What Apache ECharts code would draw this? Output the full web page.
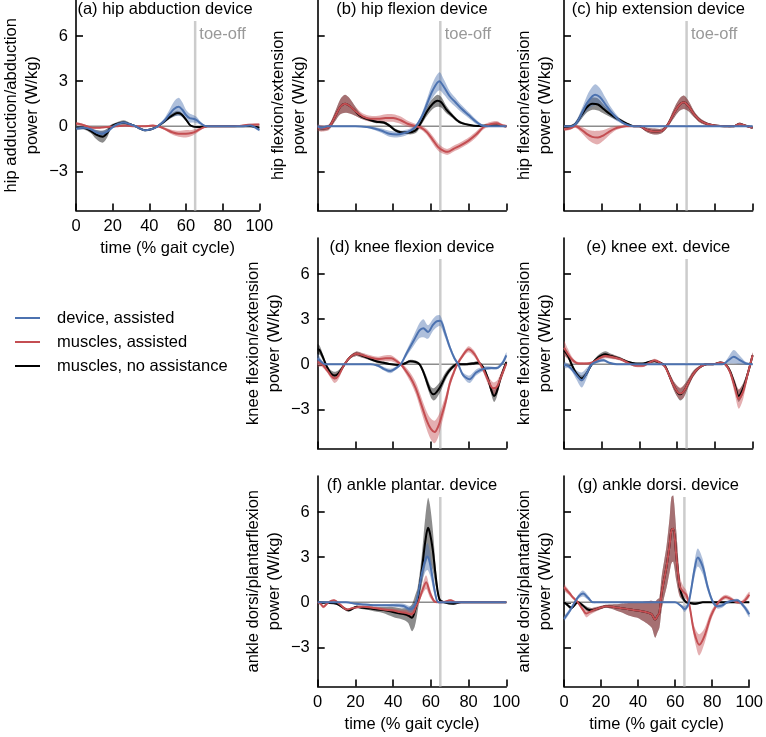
<!DOCTYPE html>
<html><head><meta charset="utf-8">
<script src="https://cdn.jsdelivr.net/npm/echarts@6.0.0/dist/echarts.min.js"></script>
<style>html,body{margin:0;padding:0;background:#fff}#c{width:766px;height:737px}</style>
</head><body><div id="c"></div>
<script>
// ---------------- DATA ----------------
const xTicks = [0, 20, 40, 60, 80, 100];
const yTicks = [-3, 0, 3, 6];
const toeOff = 65;
const toeTop = 7;
const toeLabelPos = [67.3, 6.1];
const zeroX = [0, 100];

// (a) hip abduction device
const a_none_t = [0, 4, 8, 11, 14.5, 17, 19, 22, 26, 29, 32.5, 35, 37.5, 41, 44.5, 48, 51, 53.5, 55.5, 57.5, 60, 62.5, 66, 72, 80, 90, 95, 100];
const a_none_y = [-0.1, -0.1, -0.3, -0.55, -0.7, -0.45, -0.05, 0.15, 0.25, 0.15, 0, -0.15, -0.27, -0.2, 0, 0.3, 0.6, 0.8, 0.88, 0.8, 0.45, 0.05, -0.05, 0, 0, 0, 0, -0.1];
const a_none_sd = [0.1, 0.1, 0.15, 0.3, 0.4, 0.3, 0.15, 0.1, 0.15, 0.1, 0.05, 0.05, 0.05, 0.05, 0.05, 0.1, 0.12, 0.15, 0.15, 0.12, 0.1, 0.05, 0.03, 0.03, 0.03, 0.03, 0.03, 0.05];
const a_musc_t = [0, 3, 6, 9, 13, 17, 22, 27, 32, 37, 42, 46, 49, 52.5, 56, 60, 63, 66, 69, 72, 80, 88, 94, 100];
const a_musc_y = [0.18, 0.12, 0, -0.1, -0.1, -0.05, 0, 0.05, 0, 0, 0.05, -0.05, -0.2, -0.4, -0.5, -0.5, -0.45, -0.3, -0.1, 0, 0, 0.02, 0.1, 0.12];
const a_musc_sd = [0.1, 0.08, 0.05, 0.05, 0.05, 0.05, 0.05, 0.05, 0.05, 0.05, 0.05, 0.05, 0.1, 0.15, 0.2, 0.25, 0.2, 0.15, 0.08, 0.05, 0.03, 0.03, 0.05, 0.05];
const a_dev_t = [0, 4, 8, 11, 14, 17, 20, 23, 26, 29, 32.5, 35, 37.5, 41, 44.5, 48, 51, 53.5, 56, 58, 60, 62, 64, 66, 68, 70.5, 75, 80, 90, 95, 100];
const a_dev_y = [-0.15, -0.1, -0.2, -0.4, -0.5, -0.35, -0.05, 0.15, 0.25, 0.15, 0, -0.15, -0.27, -0.2, 0, 0.35, 0.8, 1.15, 1.3, 1.1, 0.75, 0.55, 0.5, 0.4, 0.2, 0.02, 0, 0, 0, 0.05, -0.25];
const a_dev_sd = [0.1, 0.1, 0.1, 0.15, 0.2, 0.15, 0.1, 0.1, 0.1, 0.08, 0.05, 0.05, 0.05, 0.05, 0.05, 0.15, 0.3, 0.5, 0.6, 0.5, 0.35, 0.3, 0.25, 0.2, 0.1, 0.05, 0.03, 0.03, 0.03, 0.05, 0.08];

// (b) hip flexion device
const b_none_t = [0, 3, 6, 9, 12, 14.5, 17, 20, 23, 27, 31, 35, 38, 41, 44, 47, 50, 52.5, 55, 58, 61, 63.5, 65.5, 68, 71, 75, 80, 85, 90, 95, 100];
const b_none_y = [-0.1, -0.15, -0.05, 0.6, 1.3, 1.5, 1.35, 1.0, 0.65, 0.45, 0.3, 0.25, 0.05, -0.25, -0.4, -0.42, -0.38, -0.2, 0.3, 1.0, 1.5, 1.7, 1.6, 1.15, 0.75, 0.3, 0.1, 0.02, 0.05, 0.05, 0];
const b_none_sd = [0.15, 0.15, 0.15, 0.3, 0.5, 0.6, 0.5, 0.3, 0.15, 0.1, 0.1, 0.1, 0.1, 0.1, 0.1, 0.1, 0.15, 0.2, 0.2, 0.3, 0.35, 0.4, 0.35, 0.25, 0.15, 0.1, 0.05, 0.05, 0.05, 0.05, 0.05];
const b_musc_t = [0, 3, 6, 9, 12, 14.5, 17, 20, 24, 28, 32, 36, 40, 44, 48, 52, 55, 58, 61, 64, 67, 69, 72, 76, 80, 84, 88, 92, 95, 98, 100];
const b_musc_y = [-0.1, -0.15, -0.05, 0.6, 1.3, 1.5, 1.35, 1.0, 0.65, 0.5, 0.5, 0.55, 0.55, 0.4, 0.15, 0, -0.1, -0.4, -0.9, -1.4, -1.65, -1.7, -1.5, -1.25, -0.95, -0.55, -0.05, 0.15, 0.2, 0.05, 0];
const b_musc_sd = [0.2, 0.2, 0.2, 0.3, 0.5, 0.6, 0.5, 0.3, 0.2, 0.2, 0.2, 0.25, 0.25, 0.25, 0.2, 0.15, 0.15, 0.2, 0.25, 0.25, 0.2, 0.2, 0.2, 0.2, 0.2, 0.2, 0.15, 0.15, 0.15, 0.1, 0.1];
const b_dev_t = [0, 2, 5, 10, 20, 26, 30, 34, 38, 42, 46, 49, 52, 55, 58, 61, 64.5, 67, 70, 73, 76, 80, 84, 87, 90, 95, 100];
const b_dev_y = [0, -0.1, 0, 0, 0, -0.05, -0.15, -0.3, -0.5, -0.55, -0.45, -0.3, 0, 0.6, 1.5, 2.4, 3.0, 2.6, 2.0, 1.6, 1.2, 0.75, 0.3, 0.05, 0, 0, 0];
const b_dev_sd = [0.1, 0.15, 0.03, 0.02, 0.02, 0.05, 0.1, 0.15, 0.2, 0.2, 0.2, 0.15, 0.1, 0.2, 0.35, 0.5, 0.6, 0.5, 0.35, 0.3, 0.25, 0.2, 0.15, 0.1, 0.05, 0.03, 0.03];

// (c) hip extension device
const c_none_t = [0, 3, 6, 9, 12, 15, 18, 21, 24, 27, 30, 33, 37, 40, 44, 48, 52, 55, 58, 61, 63.5, 66, 69, 72, 76, 80, 85, 90, 93, 96, 100];
const c_none_y = [0, 0, 0.15, 0.7, 1.25, 1.5, 1.45, 1.15, 0.85, 0.6, 0.4, 0.2, 0, 0, -0.25, -0.35, -0.3, 0.1, 0.8, 1.4, 1.6, 1.35, 0.8, 0.4, 0.15, 0.05, 0, 0, 0.15, 0.05, -0.1];
const c_none_sd = [0.05, 0.05, 0.1, 0.25, 0.35, 0.4, 0.4, 0.3, 0.2, 0.15, 0.1, 0.08, 0.05, 0.05, 0.15, 0.2, 0.15, 0.15, 0.3, 0.4, 0.45, 0.35, 0.2, 0.15, 0.1, 0.05, 0.05, 0.05, 0.1, 0.05, 0.05];
const c_musc_t = [0, 3, 6, 9, 12, 15, 18, 21, 24, 27, 30, 33, 37, 40, 44, 48, 52, 55, 58, 61, 63.5, 66, 69, 72, 76, 80, 85, 90, 93, 96, 100];
const c_musc_y = [-0.2, -0.15, 0, -0.2, -0.5, -0.7, -0.75, -0.6, -0.35, -0.15, -0.05, 0, 0, 0, -0.25, -0.35, -0.3, 0.1, 0.8, 1.4, 1.6, 1.35, 0.8, 0.4, 0.15, 0.05, 0, 0, 0.15, 0.05, -0.1];
const c_musc_sd = [0.1, 0.1, 0.1, 0.2, 0.3, 0.4, 0.45, 0.35, 0.25, 0.15, 0.1, 0.05, 0.05, 0.05, 0.15, 0.2, 0.15, 0.15, 0.3, 0.4, 0.45, 0.35, 0.2, 0.15, 0.1, 0.05, 0.05, 0.05, 0.1, 0.05, 0.05];
const c_dev_t = [0, 4, 7, 10, 13, 16.5, 19, 22, 25, 28, 31, 34, 37, 45, 55, 65, 75, 85, 100];
const c_dev_y = [0, 0, 0.3, 1.0, 1.7, 2.1, 1.95, 1.45, 0.95, 0.55, 0.25, 0.08, 0, 0, 0, 0, 0, 0, 0];
const c_dev_sd = [0.02, 0.05, 0.2, 0.35, 0.55, 0.7, 0.6, 0.45, 0.3, 0.2, 0.1, 0.05, 0.02, 0.02, 0.02, 0.02, 0.02, 0.02, 0.02];

// (d) knee flexion device
const d_none_t = [0, 1, 3, 5, 7, 9, 11, 14, 17, 20.5, 23, 27, 31, 35, 39, 43, 46, 49, 52, 54, 56, 58, 60, 61.5, 63, 65, 68, 71, 74, 78, 82, 85, 88, 90.5, 92, 93.5, 95, 97, 100];
const d_none_y = [1.0, 0.95, 0.4, -0.2, -0.6, -0.75, -0.6, -0.05, 0.45, 0.7, 0.6, 0.4, 0.2, 0.1, 0.0, -0.05, 0.05, 0.2, 0.15, 0, -0.5, -1.2, -1.85, -2.0, -1.85, -1.5, -0.75, -0.25, 0, 0, 0.05, 0.1, -0.25, -1.05, -1.7, -2.1, -1.8, -0.9, 0.15];
const d_none_sd = [0.35, 0.3, 0.2, 0.15, 0.2, 0.25, 0.2, 0.1, 0.1, 0.15, 0.15, 0.1, 0.08, 0.08, 0.05, 0.05, 0.08, 0.1, 0.1, 0.1, 0.2, 0.3, 0.35, 0.4, 0.4, 0.35, 0.25, 0.15, 0.1, 0.08, 0.1, 0.1, 0.1, 0.2, 0.3, 0.4, 0.35, 0.2, 0.1];
const d_musc_t = [0, 2, 5, 7, 9, 11, 14, 17, 20.5, 24, 28, 32, 36, 39, 42, 44, 46, 49, 52, 55, 58, 60, 62, 64, 66, 68, 70, 72, 74, 77, 80, 83, 86, 88, 90.5, 93, 95, 97, 100];
const d_musc_y = [0.15, 0.05, -0.4, -0.75, -0.95, -0.75, -0.05, 0.45, 0.7, 0.6, 0.45, 0.35, 0.4, 0.4, 0.2, 0, -0.3, -0.85, -1.6, -2.7, -3.8, -4.3, -4.5, -4.1, -3.3, -2.4, -1.3, -0.6, 0, 0.6, 1.0, 0.7, 0.05, -0.4, -1.1, -1.6, -1.5, -0.9, 0.05];
const d_musc_sd = [0.3, 0.2, 0.15, 0.2, 0.3, 0.25, 0.1, 0.1, 0.15, 0.15, 0.15, 0.15, 0.2, 0.2, 0.15, 0.1, 0.2, 0.3, 0.4, 0.5, 0.6, 0.7, 0.75, 0.7, 0.55, 0.4, 0.3, 0.2, 0.15, 0.15, 0.2, 0.2, 0.15, 0.2, 0.3, 0.4, 0.4, 0.3, 0.15];
const d_dev_t = [0, 2, 4, 10, 20, 28, 32, 35, 38.5, 41, 44, 47, 51, 54, 56, 58.5, 61, 63, 65, 67.5, 70, 72.5, 74.5, 77, 80.5, 84, 88, 92, 95, 98, 100];
const d_dev_y = [0.4, 0.15, 0, 0, 0, 0, -0.1, -0.3, -0.45, -0.3, 0, 0.7, 1.6, 2.25, 2.4, 2.15, 2.6, 2.85, 2.9, 2.1, 1.15, 0.4, 0, -0.7, -1.0, -0.55, -0.3, -0.25, -0.25, 0.1, 0.6];
const d_dev_sd = [0.3, 0.15, 0.05, 0.02, 0.02, 0.03, 0.08, 0.12, 0.15, 0.12, 0.08, 0.2, 0.35, 0.5, 0.6, 0.45, 0.4, 0.4, 0.35, 0.3, 0.2, 0.15, 0.1, 0.15, 0.25, 0.2, 0.15, 0.1, 0.1, 0.15, 0.2];

// (e) knee ext. device
const e_none_t = [0, 2, 4, 6.5, 9.4, 12, 14.7, 18, 21.8, 25, 29.7, 34, 38, 42, 45, 48, 51, 53.5, 56, 58.5, 61.5, 63.5, 65.5, 68.5, 72, 75.7, 79, 83, 85.5, 88, 90.5, 92.6, 95, 97.5, 100];
const e_none_y = [0.93, 0.6, 0, -0.6, -0.95, -0.6, 0, 0.45, 0.67, 0.55, 0.38, 0.15, 0.05, 0.05, 0.15, 0.22, 0.1, -0.1, -0.8, -1.5, -2.0, -1.8, -1.35, -0.65, -0.2, 0, 0, 0.12, 0, -0.45, -1.35, -2.1, -1.6, -0.6, 0.6];
const e_none_sd = [0.25, 0.2, 0.1, 0.15, 0.2, 0.15, 0.1, 0.15, 0.2, 0.15, 0.1, 0.08, 0.05, 0.05, 0.08, 0.1, 0.08, 0.1, 0.2, 0.3, 0.4, 0.4, 0.3, 0.2, 0.1, 0.05, 0.05, 0.05, 0.05, 0.15, 0.3, 0.4, 0.35, 0.2, 0.15];
const e_musc_t = [0, 2, 4, 6.5, 9.4, 12, 14.7, 18, 21.8, 25, 29.7, 34, 38, 42, 45, 48, 51, 53.5, 56, 58.5, 61.5, 63.5, 65.5, 68.5, 72, 75.7, 79, 83, 85.5, 88, 90.5, 92.6, 95, 97.5, 100];
const e_musc_y = [1.1, 0.7, 0.35, 0.1, 0.05, 0.05, 0.1, 0.35, 0.55, 0.5, 0.35, 0.1, -0.1, -0.1, 0.1, 0.25, 0.1, -0.15, -0.8, -1.5, -1.95, -1.8, -1.35, -0.65, -0.2, 0, 0, 0.12, 0, -0.5, -1.5, -2.3, -1.8, -0.6, 0.6];
const e_musc_sd = [0.45, 0.35, 0.2, 0.1, 0.08, 0.08, 0.08, 0.1, 0.15, 0.15, 0.1, 0.08, 0.08, 0.08, 0.1, 0.12, 0.1, 0.1, 0.2, 0.3, 0.4, 0.4, 0.3, 0.2, 0.1, 0.05, 0.05, 0.05, 0.08, 0.2, 0.45, 0.65, 0.5, 0.25, 0.2];
const e_dev_t = [0, 2, 4, 6.5, 9.4, 12, 14.7, 18, 21, 24, 28, 40, 60, 80, 84.5, 87, 90, 93, 96.5, 100];
const e_dev_y = [-0.05, -0.1, -0.3, -0.7, -1.05, -0.6, 0, 0.2, 0.27, 0.1, 0, 0, 0, 0, 0.02, 0.25, 0.5, 0.3, 0.05, 0];
const e_dev_sd = [0.2, 0.15, 0.15, 0.3, 0.5, 0.35, 0.1, 0.1, 0.1, 0.05, 0.02, 0.02, 0.02, 0.02, 0.05, 0.2, 0.45, 0.3, 0.1, 0.05];

// (f) ankle plantar. device
const f_none_t = [0, 5, 10, 13.6, 16.3, 20.7, 24, 28, 31.3, 35, 38.4, 41, 43.7, 46, 48, 50, 51.5, 53, 55.2, 57, 58.5, 59.5, 61, 62.8, 64.6, 67, 72, 76, 85, 100];
const f_none_y = [0, -0.03, -0.1, -0.37, -0.53, -0.3, -0.37, -0.42, -0.48, -0.52, -0.6, -0.68, -0.75, -0.8, -0.88, -1.03, -0.6, 0.2, 2.15, 4.0, 4.95, 4.6, 3.5, 1.5, 0.18, 0, -0.1, 0, 0, 0];
const f_none_sd = [0.02, 0.03, 0.05, 0.08, 0.1, 0.08, 0.1, 0.12, 0.15, 0.2, 0.3, 0.35, 0.35, 0.4, 0.5, 0.9, 1.0, 0.8, 1.0, 1.6, 2.0, 1.9, 1.4, 0.6, 0.15, 0.05, 0.05, 0.02, 0.02, 0.02];
const f_musc_t = [0, 1.5, 3, 5.7, 8.7, 11.9, 15.4, 19, 24, 30, 35, 40, 43.7, 47, 49, 50.8, 52, 53.5, 55.5, 57.5, 59.6, 61.8, 64, 67, 70.3, 73.8, 80, 100];
const f_musc_y = [0, -0.1, -0.3, 0, 0.13, -0.15, -0.48, -0.37, -0.3, -0.38, -0.48, -0.55, -0.65, -0.72, -0.8, -0.7, -0.3, 0.07, 0.8, 1.34, 0.6, 0.07, 0, 0.02, 0.13, 0, 0, 0];
const f_musc_sd = [0.05, 0.08, 0.1, 0.05, 0.05, 0.05, 0.08, 0.08, 0.08, 0.1, 0.1, 0.12, 0.15, 0.2, 0.25, 0.25, 0.2, 0.15, 0.3, 0.45, 0.3, 0.1, 0.05, 0.05, 0.08, 0.05, 0.02, 0.02];
const f_dev_t = [0, 10, 15, 20, 25, 31.3, 36, 40.2, 45.5, 49, 51, 52.6, 55.2, 57, 58.2, 59.5, 60.5, 62.3, 64, 70, 100];
const f_dev_y = [0, 0, 0, -0.1, -0.15, -0.2, -0.2, -0.2, -0.25, -0.45, -0.3, 0.2, 1.9, 2.8, 3.05, 2.6, 1.9, 0.6, 0, 0, 0];
const f_dev_sd = [0.02, 0.02, 0.02, 0.05, 0.05, 0.08, 0.08, 0.1, 0.15, 0.2, 0.2, 0.2, 0.6, 0.8, 0.9, 0.8, 0.6, 0.3, 0.05, 0.02, 0.02];

// (g) ankle dorsi. device
const g_none_t = [0, 2, 4, 7.5, 10, 12.5, 14.7, 17.5, 20, 22.6, 26, 29.7, 33, 36.8, 40, 42, 44, 46, 47.4, 49.2, 50.5, 51.5, 52.7, 54, 55.4, 57, 58, 59, 60.7, 62.5, 64.2, 66, 68, 71, 75, 80, 90, 100];
const g_none_y = [0, -0.2, -0.38, 0, -0.2, -0.45, -0.53, -0.45, -0.35, -0.27, -0.3, -0.37, -0.42, -0.5, -0.55, -0.6, -0.65, -0.72, -0.8, -1.15, -0.9, -0.7, 0.6, 1.5, 2.4, 3.8, 4.8, 4.9, 3.0, 1.0, 0.3, 0, -0.05, -0.1, 0, 0, 0, 0];
const g_none_sd = [0.05, 0.1, 0.1, 0.05, 0.1, 0.15, 0.15, 0.12, 0.1, 0.1, 0.15, 0.25, 0.35, 0.45, 0.5, 0.6, 0.7, 0.8, 0.9, 1.2, 1.1, 1.0, 1.1, 1.2, 1.4, 1.8, 2.2, 2.2, 1.6, 0.6, 0.2, 0.08, 0.08, 0.08, 0.03, 0.02, 0.02, 0.02];
const g_musc_t = [0, 3, 5, 7.5, 10, 12, 14.5, 17.5, 20, 22.6, 26, 29.7, 33, 36.8, 40, 42, 44, 46, 47.4, 49.2, 50.5, 51.5, 52.7, 54, 55.4, 57, 58, 59, 60.7, 62.5, 64.2, 66, 67.8, 69.6, 71, 73, 75.8, 79.3, 82.8, 85, 87.3, 90, 93.5, 96, 100];
const g_musc_y = [1.0, 0.6, 0.3, 0, -0.45, -0.75, -0.6, -0.45, -0.35, -0.27, -0.3, -0.37, -0.42, -0.5, -0.55, -0.6, -0.65, -0.72, -0.8, -1.15, -0.9, -0.7, 0.6, 1.5, 2.4, 3.8, 4.8, 4.9, 3.0, 1.05, 0.72, 0.5, -0.26, -1.6, -2.3, -2.83, -2.25, -0.92, -0.1, 0.2, 0.35, 0.22, 0, 0, 0.5];
const g_musc_sd = [0.2, 0.15, 0.1, 0.1, 0.15, 0.25, 0.2, 0.15, 0.12, 0.1, 0.15, 0.25, 0.35, 0.45, 0.5, 0.6, 0.7, 0.8, 0.9, 1.2, 1.1, 1.0, 1.1, 1.2, 1.4, 1.8, 2.2, 2.2, 1.6, 0.7, 0.4, 0.3, 0.25, 0.35, 0.5, 0.7, 0.5, 0.3, 0.15, 0.15, 0.15, 0.15, 0.1, 0.1, 0.2];
const g_dev_t = [0, 3, 5.8, 8, 10.3, 13, 15.6, 20, 40, 60, 63.4, 65.1, 67, 68.3, 70.4, 72.2, 74.9, 77.5, 80.2, 82.8, 85.5, 88, 93.5, 97, 100];
const g_dev_y = [-1.1, -0.6, 0, 0.4, 0.58, 0.3, 0, 0, 0, 0, -0.26, -0.45, -0.15, 0.6, 2.15, 2.98, 2.37, 1.05, 0.07, -0.26, -0.2, 0, 0.13, -0.26, -0.8];
const g_dev_sd = [0.15, 0.15, 0.1, 0.15, 0.2, 0.15, 0.05, 0.02, 0.02, 0.02, 0.1, 0.2, 0.15, 0.25, 0.5, 0.6, 0.5, 0.3, 0.15, 0.15, 0.15, 0.1, 0.1, 0.15, 0.2];

const legendLabels = ['device, assisted', 'muscles, assisted', 'muscles, no assistance'];

// ---------------- LAYOUT / STYLE ----------------
const FONT = '"Liberation Sans", Arial, Helvetica, sans-serif';
const FS = 16.5;
const YMIN = -5.6, YMAX = 8.4;
const colLeft = [70.7, 317.7, 564];
const rowTop = [0, 238, 476];
const GW = 188.6, GH = 210.5;
const COL = { dev: '#4C72B0', musc: '#C44E52', none: '#000000' };
const BAND_OP = { dev: 0.45, musc: 0.45, none: 0.45 };
const SM = 0.3;

const panels = [
  { r: 0, c: 0, title: '(a) hip abduction device', yName: 'hip adduction/abduction\npower (W/kg)', yl: true, xl: true, toe: true,
    none: [a_none_t, a_none_y, a_none_sd], musc: [a_musc_t, a_musc_y, a_musc_sd], dev: [a_dev_t, a_dev_y, a_dev_sd] },
  { r: 0, c: 1, title: '(b) hip flexion device', yName: 'hip flexion/extension\npower (W/kg)', yl: false, xl: false, toe: true,
    none: [b_none_t, b_none_y, b_none_sd], musc: [b_musc_t, b_musc_y, b_musc_sd], dev: [b_dev_t, b_dev_y, b_dev_sd] },
  { r: 0, c: 2, title: '(c) hip extension device', yName: 'hip flexion/extension\npower (W/kg)', yl: false, xl: false, toe: true,
    none: [c_none_t, c_none_y, c_none_sd], musc: [c_musc_t, c_musc_y, c_musc_sd], dev: [c_dev_t, c_dev_y, c_dev_sd] },
  { r: 1, c: 1, title: '(d) knee flexion device', yName: 'knee flexion/extension\npower (W/kg)', yl: true, xl: false, toe: false,
    none: [d_none_t, d_none_y, d_none_sd], musc: [d_musc_t, d_musc_y, d_musc_sd], dev: [d_dev_t, d_dev_y, d_dev_sd] },
  { r: 1, c: 2, title: '(e) knee ext. device', yName: 'knee flexion/extension\npower (W/kg)', yl: false, xl: false, toe: false,
    none: [e_none_t, e_none_y, e_none_sd], musc: [e_musc_t, e_musc_y, e_musc_sd], dev: [e_dev_t, e_dev_y, e_dev_sd] },
  { r: 2, c: 1, title: '(f) ankle plantar. device', yName: 'ankle dorsi/plantarflexion\npower (W/kg)', yl: true, xl: true, toe: false,
    none: [f_none_t, f_none_y, f_none_sd], musc: [f_musc_t, f_musc_y, f_musc_sd], dev: [f_dev_t, f_dev_y, f_dev_sd] },
  { r: 2, c: 2, title: '(g) ankle dorsi. device', yName: 'ankle dorsi/plantarflexion\npower (W/kg)', yl: false, xl: true, toe: false,
    none: [g_none_t, g_none_y, g_none_sd], musc: [g_musc_t, g_musc_y, g_musc_sd], dev: [g_dev_t, g_dev_y, g_dev_sd] }
];

panels.forEach(p => ['none', 'musc', 'dev'].forEach(k => {
  const [t, y, s] = p[k];
  if (t.length !== y.length || t.length !== s.length) throw new Error('length mismatch ' + p.title + ' ' + k + ' ' + t.length + '/' + y.length + '/' + s.length);
}));

const txt = { fontSize: FS, color: '#000', fontFamily: FONT };
const axLine = { color: '#000', width: 1.6 };
const fmtY = v => (v < 0 ? '\u2212' + Math.abs(v) : String(v));

// band (mean ± sd) drawn as one smoothed polygon through the axis scales
function bandSeries(i, t, y, s, color, op) {
  return {
    type: 'custom', xAxisIndex: i, yAxisIndex: i, silent: true, clip: true, z: 2,
    data: t.map((x, j) => [x, y[j] - s[j], y[j] + s[j]]),
    encode: { x: 0, y: [1, 2] },
    renderItem: (params, api) => {
      if (params.dataIndex !== 0) return null;
      const up = [], lo = [];
      for (let j = 0; j < t.length; j++) {
        up.push(api.coord([t[j], y[j] + s[j]]));
        lo.push(api.coord([t[j], y[j] - s[j]]));
      }
      return { type: 'group', children: [
        { type: 'polyline', shape: { points: up, smooth: SM }, style: { stroke: 'none', fill: 'none' } },
        { type: 'polygon', shape: { points: up.concat(lo.reverse()), smooth: SM }, style: { fill: color, opacity: op, stroke: 'none' } }
      ] };
    }
  };
}

const grids = [], xAxes = [], yAxes = [], titles = [], series = [];
panels.forEach((p, i) => {
  const left = colLeft[p.c], top = rowTop[p.r];
  grids.push({ left, top, width: GW, height: GH, containLabel: false });
  titles.push({ text: p.title, left: left + GW / 2, top: top + 1, textAlign: 'center', padding: 0,
    textStyle: { fontSize: FS, fontWeight: 'normal', color: '#000', fontFamily: FONT } });
  xAxes.push({ type: 'value', gridIndex: i, min: 0, max: 100, interval: 20,
    axisLine: { show: true, onZero: false, lineStyle: axLine },
    axisTick: { show: true, inside: true, length: 7, lineStyle: axLine },
    axisLabel: { show: p.xl, margin: 7, ...txt },
    splitLine: { show: false },
    name: p.xl ? 'time (% gait cycle)' : '', nameLocation: 'middle', nameGap: 29, nameTextStyle: txt });
  yAxes.push({ type: 'value', gridIndex: i, min: YMIN, max: YMAX,
    axisLine: { show: true, onZero: false, lineStyle: axLine },
    axisTick: { show: true, inside: true, length: 7, customValues: yTicks, lineStyle: axLine },
    axisLabel: { show: p.yl, margin: 8, customValues: yTicks, formatter: fmtY, ...txt },
    splitLine: { show: false },
    name: p.yName, nameLocation: 'middle', nameRotate: 90, nameGap: p.yl ? 33 : 8,
    nameTextStyle: { ...txt, lineHeight: 21, align: 'center' } });

  series.push({ type: 'line', xAxisIndex: i, yAxisIndex: i, data: zeroX.map(x => [x, 0]), symbol: 'none', silent: true,
    lineStyle: { color: '#8c8c8c', width: 1.6 }, z: 1 });
  series.push({ type: 'line', xAxisIndex: i, yAxisIndex: i, data: [[toeOff, YMIN], [toeOff, toeTop]], symbol: 'none', silent: true,
    lineStyle: { color: '#cccccc', width: 2.5 }, z: 1 });

  ['none', 'musc', 'dev'].forEach(k => {
    const [t, y, s] = p[k];
    series.push(bandSeries(i, t, y, s, COL[k], BAND_OP[k]));
    series.push({ type: 'line', xAxisIndex: i, yAxisIndex: i, smooth: SM, symbol: 'none', silent: true,
      lineStyle: { color: COL[k], width: 2 }, data: t.map((x, j) => [x, y[j]]), z: 2 });
  });
});

const chart = echarts.init(document.getElementById('c'), null, { renderer: 'canvas' });
chart.setOption({
  animation: false,
  backgroundColor: '#fff',
  title: titles, grid: grids, xAxis: xAxes, yAxis: yAxes, series
});

const graphics = [];
const legendKeys = ['dev', 'musc', 'none'];
legendLabels.forEach((lab, i) => {
  const y = 318 + 24 * i;
  graphics.push({ type: 'line', shape: { x1: 15, y1: y, x2: 40, y2: y }, style: { stroke: COL[legendKeys[i]], lineWidth: 2 }, silent: true });
  graphics.push({ type: 'text', x: 57, y, style: { text: lab, fill: '#000', font: FS + 'px ' + FONT, verticalAlign: 'middle', align: 'left' }, silent: true });
});
panels.forEach((p, i) => {
  if (!p.toe) return;
  const pt = chart.convertToPixel({ gridIndex: i }, toeLabelPos);
  graphics.push({ type: 'text', x: pt[0], y: pt[1], style: { text: 'toe-off', fill: '#999999', font: FS + 'px ' + FONT, verticalAlign: 'middle', align: 'left' }, silent: true });
});
chart.setOption({ graphic: graphics });
</script>
</body></html>
